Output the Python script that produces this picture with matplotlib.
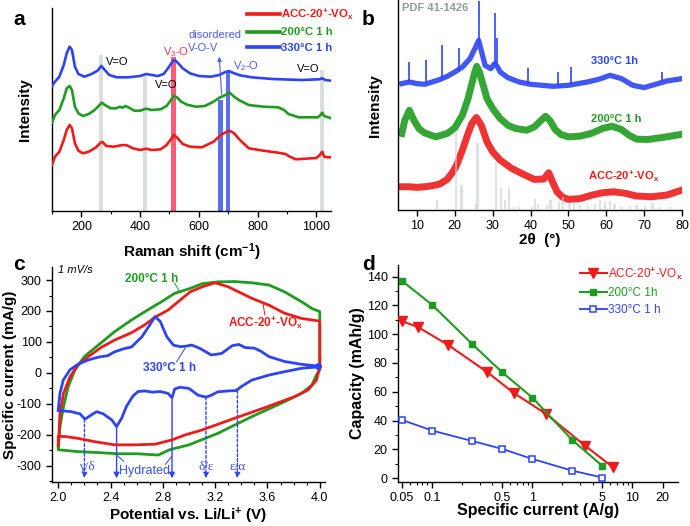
import numpy as np
import matplotlib
matplotlib.use("Agg")
import matplotlib.pyplot as plt
from matplotlib.ticker import MultipleLocator, FixedLocator, NullFormatter

plt.rcParams['font.family'] = ['Liberation Sans', 'DejaVu Sans']
plt.rcParams['mathtext.fontset'] = 'custom'
plt.rcParams['mathtext.rm'] = 'Liberation Sans'
plt.rcParams['mathtext.it'] = 'Liberation Sans:italic'
plt.rcParams['mathtext.bf'] = 'Liberation Sans:bold'
plt.rcParams['axes.unicode_minus'] = False

RED = '#ee1b1b'
GREEN = '#1f9c1f'
BLUE = '#2c44f2'
ACC_LBL = r'ACC-20$^\mathbf{+}$-VO$_\mathbf{x}$'

# ---------------- panel a: Raman (intensity in arbitrary units) ----------------
ram_blue_x = [100, 110, 125, 140, 150, 160, 168, 178, 190, 210, 235, 255, 268, 280, 295, 320, 360, 400, 420, 440,
              460, 480, 495, 510, 518, 530, 545, 570, 600, 640, 670, 690, 703, 715, 740, 780, 850, 950, 1010, 1020,
              1030, 1050]
ram_blue_y = [125.0, 129.3, 134.3, 146.0, 157.7, 164.3, 161.0, 144.3, 137.0, 134.3, 137.0, 140.3, 145.0, 141.0,
              136.0, 133.7, 133.7, 135.0, 137.0, 136.0, 135.0, 137.0, 142.7, 149.3, 151.0, 147.7, 142.7, 137.7,
              135.0, 134.3, 136.0, 139.0, 140.0, 138.3, 135.7, 133.7, 132.0, 131.0, 131.7, 132.7, 131.0, 130.3]
ram_green_x = [100, 110, 125, 140, 150, 160, 168, 178, 190, 205, 225, 245, 262, 270, 280, 300, 320, 330, 340, 350,
               360, 380, 400, 420, 440, 470, 490, 505, 515, 525, 540, 560, 590, 620, 650, 670, 690, 705, 720, 740,
               770, 820, 870, 890, 905, 940, 1005, 1015, 1020, 1027, 1040, 1050]
ram_green_y = [88.3, 96.0, 101.0, 112.7, 122.7, 125.0, 121.0, 104.3, 97.7, 95.0, 97.0, 101.0, 106.0, 108.3, 106.0,
               102.7, 102.7, 104.3, 103.3, 105.0, 103.7, 100.3, 100.3, 102.3, 101.0, 101.7, 105.0, 111.0, 115.3,
               113.7, 109.3, 106.3, 104.3, 105.0, 109.3, 113.3, 116.0, 118.3, 114.3, 110.3, 106.0, 104.3, 103.7,
               101.0, 97.0, 93.7, 93.7, 96.0, 98.3, 95.0, 93.7, 92.7]
ram_red_x = [100, 110, 125, 140, 150, 160, 168, 178, 190, 205, 225, 250, 265, 272, 285, 310, 340, 355, 375, 400,
             420, 440, 470, 490, 505, 515, 525, 545, 570, 610, 650, 675, 695, 705, 720, 740, 770, 820, 870, 895,
             910, 930, 1000, 1012, 1020, 1027, 1040, 1050]
ram_red_y = [46.0, 54.3, 59.3, 71.0, 81.0, 86.0, 82.7, 67.7, 60.3, 57.7, 59.3, 63.7, 68.3, 69.0, 65.0, 64.3, 66.0,
             65.7, 62.7, 61.0, 62.3, 61.0, 61.7, 66.0, 71.7, 76.0, 73.7, 67.0, 64.3, 63.7, 69.3, 76.0, 79.3, 80.3,
             77.7, 71.0, 62.7, 60.3, 58.3, 57.0, 54.3, 51.7, 53.0, 56.0, 59.3, 54.3, 53.7, 53.7]
# marker bands: (start, end, height, colour)
band_lo = [260, 411, 1014, 504, 666, 693]
band_hi = [275, 425, 1027, 521, 681, 706]
band_top = [156, 135, 141, 154, 111, 139]
band_col = ['#d9dfdc', '#d9dfdc', '#d9dfdc', '#ff5a78', '#5a6ef0', '#5a6ef0']

# ---------------- panel b: XRD ----------------
xrd_blue_x = [6, 8, 10, 12, 14, 16, 18, 20, 22, 24, 25.5, 26.3, 27.2, 28, 29.5, 30.5, 31.3, 32, 34, 37, 40, 43,
              46, 50, 55, 58, 61, 64, 67, 70, 73, 76, 80]
xrd_blue_y = [126.7, 128.3, 126.7, 126, 128.3, 130.7, 134, 138.3, 143.3, 151.7, 163.3, 170, 156.7, 145, 141.7,
              146.7, 143.3, 138.3, 132.7, 128.3, 126, 125, 124, 125, 128.3, 131, 135, 131.7, 125, 122.7, 126,
              129.3, 131.7]
spike_x = [8.0, 12.5, 16.7, 21.0, 26.5, 30.5, 31.2, 39.2, 47.2, 50.7, 74.7]
spike_base = [128, 127, 131, 139, 165, 146, 144, 126, 124, 125, 129]
spike_top = [148, 150, 165, 162, 209, 197, 172, 142, 138, 143, 138]
xrd_green_x = [6, 6.8, 8, 9.2, 10.5, 12, 15, 18, 20, 22, 23.5, 24.5, 25.3, 25.8, 26.5, 27.5, 28.5, 30, 32, 34, 36,
               39, 41, 43, 44, 45.2, 46.5, 48, 50, 53, 56, 59, 61.5, 64, 66, 68, 71, 74, 77, 80]
xrd_green_y = [76.7, 90, 100, 90, 81.7, 77.3, 73.3, 76.7, 82.3, 95, 111.7, 126.7, 138.3, 144, 138.3, 125, 111.7,
               101.7, 91.7, 85, 81.7, 80, 83.3, 90.7, 94, 89.3, 80.7, 75.7, 73.3, 74, 76.7, 81.7, 84, 80.7, 75, 71,
               70.7, 72.3, 74, 76]
xrd_red_x = [6, 8, 10, 12, 14, 16, 18, 19.5, 20.5, 22, 23.5, 24.5, 25.7, 27, 28.5, 30, 32, 35, 38, 41, 43.5, 44.8,
             45.8, 47, 48.5, 50, 53, 56, 59, 62, 65, 68, 72, 76, 80]
xrd_red_y = [23.3, 23.3, 22.7, 23.3, 24.3, 26, 30.7, 38.3, 45, 60, 76.7, 86.7, 92.7, 85, 68.3, 58.3, 50, 41.7, 36,
             30.7, 31, 37.3, 28.3, 18.3, 12.7, 10.7, 11.3, 14.7, 17.3, 18.3, 16.7, 14, 13.3, 15, 20]
pdf_x = [15.3, 20.3, 21.8, 25.6, 26.0, 30.8, 32.2, 33.3, 34.3, 35.7, 37.0, 40.3, 41.2, 42.0, 44.3, 45.3, 47.5,
         48.6, 50.3, 51.4, 53.0, 55.2, 57.0, 58.3, 59.6, 61.0, 62.2, 64.0, 66.3, 68.0, 70.2, 72.2, 74.0, 76.8]
pdf_h = [10, 76.7, 25, 6, 66.7, 46.7, 21.7, 10, 23.3, 3.3, 3.3, 3.3, 10.7, 6, 5, 10, 8.3, 13.3, 6.7, 8.3, 5, 4, 6,
         10, 8.3, 9.3, 6, 3.3, 4, 5.3, 4, 6.7, 3.3, 3.3]

# ---------------- panel c: CV at 1 mV/s ----------------
cv_green_v = [2.0, 2.013, 2.04, 2.076, 2.127, 2.20, 2.306, 2.43, 2.56, 2.69, 2.79, 2.89, 3.01, 3.10, 3.22, 3.35,
              3.48, 3.61, 3.73, 3.86, 3.94, 4.0, 4.0, 3.975, 3.94, 3.86, 3.73, 3.48, 3.22, 3.0, 2.85, 2.765, 2.61,
              2.46, 2.306, 2.153, 2.0, 2.0]
cv_green_i = [-238, -173, -109, -44, 10, 53, 90, 133, 171, 205, 230, 257, 273, 288, 294, 295, 291, 284, 262, 230,
              208, 198, 10, -6, -39, -66, -93, -141, -195, -232, -248, -265, -261, -261, -257, -254, -248, -238]
cv_red_v = [2.0, 2.005, 2.013, 2.04, 2.09, 2.153, 2.23, 2.33, 2.43, 2.56, 2.66, 2.74, 2.84, 2.94, 3.01, 3.10,
            3.20, 3.30, 3.48, 3.61, 3.73, 3.86, 3.99, 4.0, 4.0, 3.975, 3.91, 3.81, 3.6, 3.35, 3.10, 2.97, 2.87,
            2.74, 2.59, 2.43, 2.28, 2.15, 2.05, 2.0, 2.0]
cv_red_i = [-232, -205, -130, -66, -12, 26, 53, 83, 106, 130, 155, 180, 203, 238, 262, 278, 291, 278, 241, 219,
            193, 176, 168, 165, 20, -23, -55, -76, -109, -146, -184, -200, -216, -230, -232, -232, -222, -211,
            -205, -205, -232]
cv_blue_v = [2.0, 2.013, 2.038, 2.089, 2.153, 2.23, 2.306, 2.38, 2.43, 2.50, 2.56, 2.64, 2.70, 2.74, 2.78, 2.83,
             2.88, 2.93, 2.97, 3.02, 3.08, 3.17, 3.25, 3.33, 3.38, 3.43, 3.50, 3.55, 3.61, 3.73, 3.86, 3.99,
             4.0, 3.86, 3.73, 3.61, 3.48, 3.40, 3.36, 3.30, 3.22, 3.17, 3.13, 3.07, 3.0, 2.93, 2.89, 2.87, 2.84,
             2.78, 2.72, 2.66, 2.61, 2.57, 2.52, 2.485, 2.446, 2.41, 2.344, 2.293, 2.255, 2.204, 2.166, 2.10, 2.0]
cv_blue_i = [-119, -66, -23, 10, 29, 42, 51, 56, 68, 78, 84, 117, 155, 182, 166, 117, 90, 85, 86, 90, 80, 58, 63,
             88, 92, 82, 80, 70, 53, 37, 28, 22,
             20, 15, 4, -7, -23, -44, -57, -58, -61, -72, -78, -72, -50, -46, -52, -80, -66, -60, -62, -58, -60,
             -75, -109, -146, -173, -152, -132, -125, -135, -149, -132, -125, -121]
peak_v = [2.20, 2.446, 2.87, 3.13, 3.37]
peak_i = [-150, -173, -80, -78, -57]
peak_dotted = [True, False, False, True, True]

# ---------------- panel d: rate capability ----------------
acc_x = [0.05, 0.072, 0.144, 0.35, 0.66, 1.37, 3.35, 6.4]
acc_y = [109, 105, 92.6, 74, 59, 44.7, 22.7, 7.6]
cur_x = [0.05, 0.1, 0.25, 0.5, 1, 2.5, 5]
h200_y = [137, 120.4, 93.3, 73.6, 56, 26.6, 8.6]
h330_y = [40.5, 33.1, 25.9, 20.4, 13.4, 5.3, 0.5]


def px_rect(l, t, r, b):
    return [l / 690, 1 - b / 526, (r - l) / 690, (b - t) / 526]


def style(ax):
    for s in ['top', 'right']:
        ax.spines[s].set_visible(False)
    ax.spines['left'].set_linewidth(1.0)
    ax.spines['bottom'].set_linewidth(1.0)
    ax.tick_params(direction='out', length=4, width=1, labelsize=9)
    ax.tick_params(which='minor', direction='out', length=2.5, width=0.8)


fig = plt.figure(figsize=(6.9, 5.26), dpi=100)

# ---- a ----
ax = fig.add_axes(px_rect(52, 8, 331, 211))
style(ax)
for lo, hi, top, col in zip(band_lo, band_hi, band_top, band_col):
    ax.fill_between([lo, hi], 0, top, color=col, lw=0, zorder=1)
ax.plot(ram_red_x, ram_red_y, color=RED, lw=1.9, zorder=3, label=ACC_LBL)
ax.plot(ram_green_x, ram_green_y, color=GREEN, lw=1.9, zorder=3, label='200°C 1 h')
ax.plot(ram_blue_x, ram_blue_y, color=BLUE, lw=1.9, zorder=3, label='330°C 1 h')
ax.set_xlim(100, 1050)
ax.set_ylim(0, 203)
ax.set_yticks([])
ax.xaxis.set_major_locator(MultipleLocator(200))
ax.xaxis.set_minor_locator(MultipleLocator(100))
ax.set_xlabel(r'Raman shift (cm$^\mathbf{-1}$)', fontsize=11, fontweight='bold')
ax.xaxis.set_label_coords(0.5, -0.148)
ax.set_ylabel('Intensity', fontsize=11, fontweight='bold')
ax.yaxis.set_label_coords(-0.072, 0.5)
ax.text(285, 149, 'V=O', fontsize=8, va='center')
ax.text(451, 126, 'V=O', fontsize=8, va='center')
ax.text(933, 142, 'V=O', fontsize=8, va='center')
ax.text(477, 159, 'V$_3$-O', fontsize=8, va='center', color='#ff3552')
ax.text(564, 176, 'disordered', fontsize=8, va='center', color='#4a5ef0')
ax.text(564, 163, 'V-O-V', fontsize=8, va='center', color='#4a5ef0')
ax.text(717, 145, 'V$_2$-O', fontsize=8, va='center', color='#4a5ef0')
ax.annotate('', xy=(669, 157), xytext=(678, 114),
            arrowprops=dict(arrowstyle='-|>', color='#4a5ef0', lw=0.8, mutation_scale=6))
leg = fig.legend(loc='upper left', bbox_to_anchor=(241 / 690, 1 - 1 / 526), frameon=False,
                 handlelength=2.9, handletextpad=0.15, labelspacing=0.5, borderpad=0,
                 prop={'weight': 'bold', 'size': 8.2})
for t, c in zip(leg.get_texts(), [RED, GREEN, BLUE]):
    t.set_color(c)
for h in leg.legend_handles:
    h.set_linewidth(2.6)
fig.text(13 / 690, 1 - 25 / 526, 'a', fontsize=15, fontweight='bold')

# ---- b ----
ax = fig.add_axes(px_rect(398, 0.5, 682, 210))
style(ax)
ax.plot(xrd_red_x, xrd_red_y, color=RED, lw=5, alpha=0.9, solid_joinstyle='round', zorder=2)
ax.plot(xrd_green_x, xrd_green_y, color=GREEN, lw=5, alpha=0.9, solid_joinstyle='round', zorder=2)
ax.plot(xrd_blue_x, xrd_blue_y, color=BLUE, lw=3.8, alpha=0.9, solid_joinstyle='round', zorder=2)
ax.vlines(spike_x, spike_base, spike_top, color=BLUE, lw=1.2, zorder=2)
ax.bar(pdf_x, pdf_h, width=0.6, bottom=0, color='#c9d0ce', alpha=0.6, lw=0, zorder=3)
ax.set_xlim(5, 80)
ax.set_ylim(0, 210)
ax.set_yticks([])
ax.xaxis.set_major_locator(MultipleLocator(10))
ax.set_xlabel('2θ  (°)', fontsize=11, fontweight='bold')
ax.xaxis.set_label_coords(0.5, -0.11)
ax.set_ylabel('Intensity', fontsize=11, fontweight='bold')
ax.yaxis.set_label_coords(-0.056, 0.5)
ax.text(6.0, 202.7, 'PDF 41-1426', fontsize=8, fontweight='bold', color='#929b99', va='center')
ax.text(55.9, 149, '330°C 1h', fontsize=8, fontweight='bold', color=BLUE, va='center')
ax.text(55.9, 91.7, '200°C 1 h', fontsize=8, fontweight='bold', color=GREEN, va='center')
ax.text(55.3, 33.3, ACC_LBL, fontsize=8, fontweight='bold', color=RED, va='center')
fig.text(362 / 690, 1 - 25 / 526, 'b', fontsize=15, fontweight='bold')

# ---- c ----
ax = fig.add_axes(px_rect(52, 267, 325, 482))
style(ax)
ax.plot(cv_green_v, cv_green_i, color=GREEN, lw=2.0, zorder=3)
ax.plot(cv_red_v, cv_red_i, color=RED, lw=2.0, zorder=4)
ax.plot(cv_blue_v, cv_blue_i, color=BLUE, lw=2.0, zorder=5)
ax.plot([cv_blue_v[31]], [cv_blue_i[31]], 'o', color=BLUE, ms=4, zorder=6)
for v, i, dot in zip(peak_v, peak_i, peak_dotted):
    ax.annotate('', xy=(v, -340), xytext=(v, i),
                arrowprops=dict(arrowstyle='-|>', color=BLUE, lw=1.0, mutation_scale=8,
                                linestyle=(0, (2, 1.5)) if dot else '-', shrinkA=0, shrinkB=0))
ax.text(2.22, -305, 'γ/δ', fontsize=9.5, color='#3a50f0', ha='center', va='center', family='Liberation Serif')
ax.text(3.13, -305, 'δ/ε', fontsize=9.5, color='#3a50f0', ha='center', va='center', family='Liberation Serif')
ax.text(3.37, -305, 'ε/α', fontsize=9.5, color='#3a50f0', ha='center', va='center', family='Liberation Serif')
ax.text(2.66, -317, 'Hydrated', fontsize=9, color='#3a50f0', ha='center', va='center')
ax.plot([2.50, 2.455], [-285, -268], color=BLUE, lw=0.7)
ax.plot([2.82, 2.865], [-295, -270], color=BLUE, lw=0.7)
ax.text(2.0, 332, '1 mV/s', fontsize=8, style='italic', va='center')
ax.text(2.51, 303, '200°C 1 h', fontsize=8.5, fontweight='bold', color=GREEN, va='center')
ax.plot([2.89, 2.93], [290, 262], color=GREEN, lw=0.7)
ax.text(3.30, 161, ACC_LBL, fontsize=8.5, fontweight='bold', color=RED, va='center')
ax.plot([3.58, 3.565], [187, 226], color=RED, lw=0.7)
ax.text(2.65, 16, '330°C 1 h', fontsize=8.5, fontweight='bold', color=BLUE, va='center')
ax.plot([2.905, 2.97], [36, 80], color=BLUE, lw=0.7)
ax.set_xlim(1.952, 4.04)
ax.set_ylim(-352, 342)
ax.xaxis.set_major_locator(FixedLocator([2.0, 2.4, 2.8, 3.2, 3.6, 4.0]))
ax.xaxis.set_minor_locator(MultipleLocator(0.1))
ax.yaxis.set_major_locator(MultipleLocator(100))
ax.yaxis.set_minor_locator(MultipleLocator(50))
ax.set_xticklabels(['2.0', '2.4', '2.8', '3.2', '3.6', '4.0'])
ax.set_xlabel(r'Potential vs. Li/Li$^\mathbf{+}$ (V)', fontsize=11, fontweight='bold')
ax.xaxis.set_label_coords(0.5, -0.112)
ax.set_ylabel('Specific current (mA/g)', fontsize=11, fontweight='bold')
ax.yaxis.set_label_coords(-0.128, 0.5)
fig.text(13 / 690, 1 - 270 / 526, 'c', fontsize=15, fontweight='bold')

# ---- d ----
ax = fig.add_axes(px_rect(398, 265, 678, 482))
style(ax)
ax.plot(acc_x, acc_y, '-v', color=RED, lw=1.5, ms=6.5, label=ACC_LBL, zorder=3)
ax.plot(cur_x, h200_y, '-s', color=GREEN, lw=1.5, ms=5, label='200°C 1h', zorder=4)
ax.plot(cur_x, h330_y, '-s', color=BLUE, lw=1.3, ms=5, mfc='white', mew=1.1, label='330°C 1 h', zorder=4)
ax.set_xscale('log')
ax.set_xlim(0.0457, 28.5)
ax.set_ylim(-2.6, 148)
ax.xaxis.set_major_locator(FixedLocator([0.05, 0.1, 0.5, 1, 5, 10, 20]))
ax.xaxis.set_minor_locator(FixedLocator([0.06, 0.07, 0.08, 0.09, 0.2, 0.3, 0.4, 0.6, 0.7, 0.8, 0.9,
                                         2, 3, 4, 6, 7, 8, 9]))
ax.xaxis.set_minor_formatter(NullFormatter())
ax.set_xticklabels(['0.05', '0.1', '0.5', '1', '5', '10', '20'])
ax.yaxis.set_major_locator(MultipleLocator(20))
ax.yaxis.set_minor_locator(MultipleLocator(10))
ax.set_xlabel('Specific current (A/g)', fontsize=11.5, fontweight='bold')
ax.xaxis.set_label_coords(0.5, -0.097)
ax.set_ylabel('Capacity (mAh/g)', fontsize=11.5, fontweight='bold')
ax.yaxis.set_label_coords(-0.118, 0.5)
leg = ax.legend(loc='upper left', bbox_to_anchor=(574 / 690, 1 - 259 / 526), bbox_transform=fig.transFigure,
                frameon=False, fontsize=8.5, handlelength=2.3, handletextpad=0.1, labelspacing=0.45,
                borderpad=0)
for t, c in zip(leg.get_texts(), [RED, GREEN, BLUE]):
    t.set_color(c)
fig.text(362 / 690, 1 - 270 / 526, 'd', fontsize=15, fontweight='bold')

fig.savefig('out.png', dpi=100)
